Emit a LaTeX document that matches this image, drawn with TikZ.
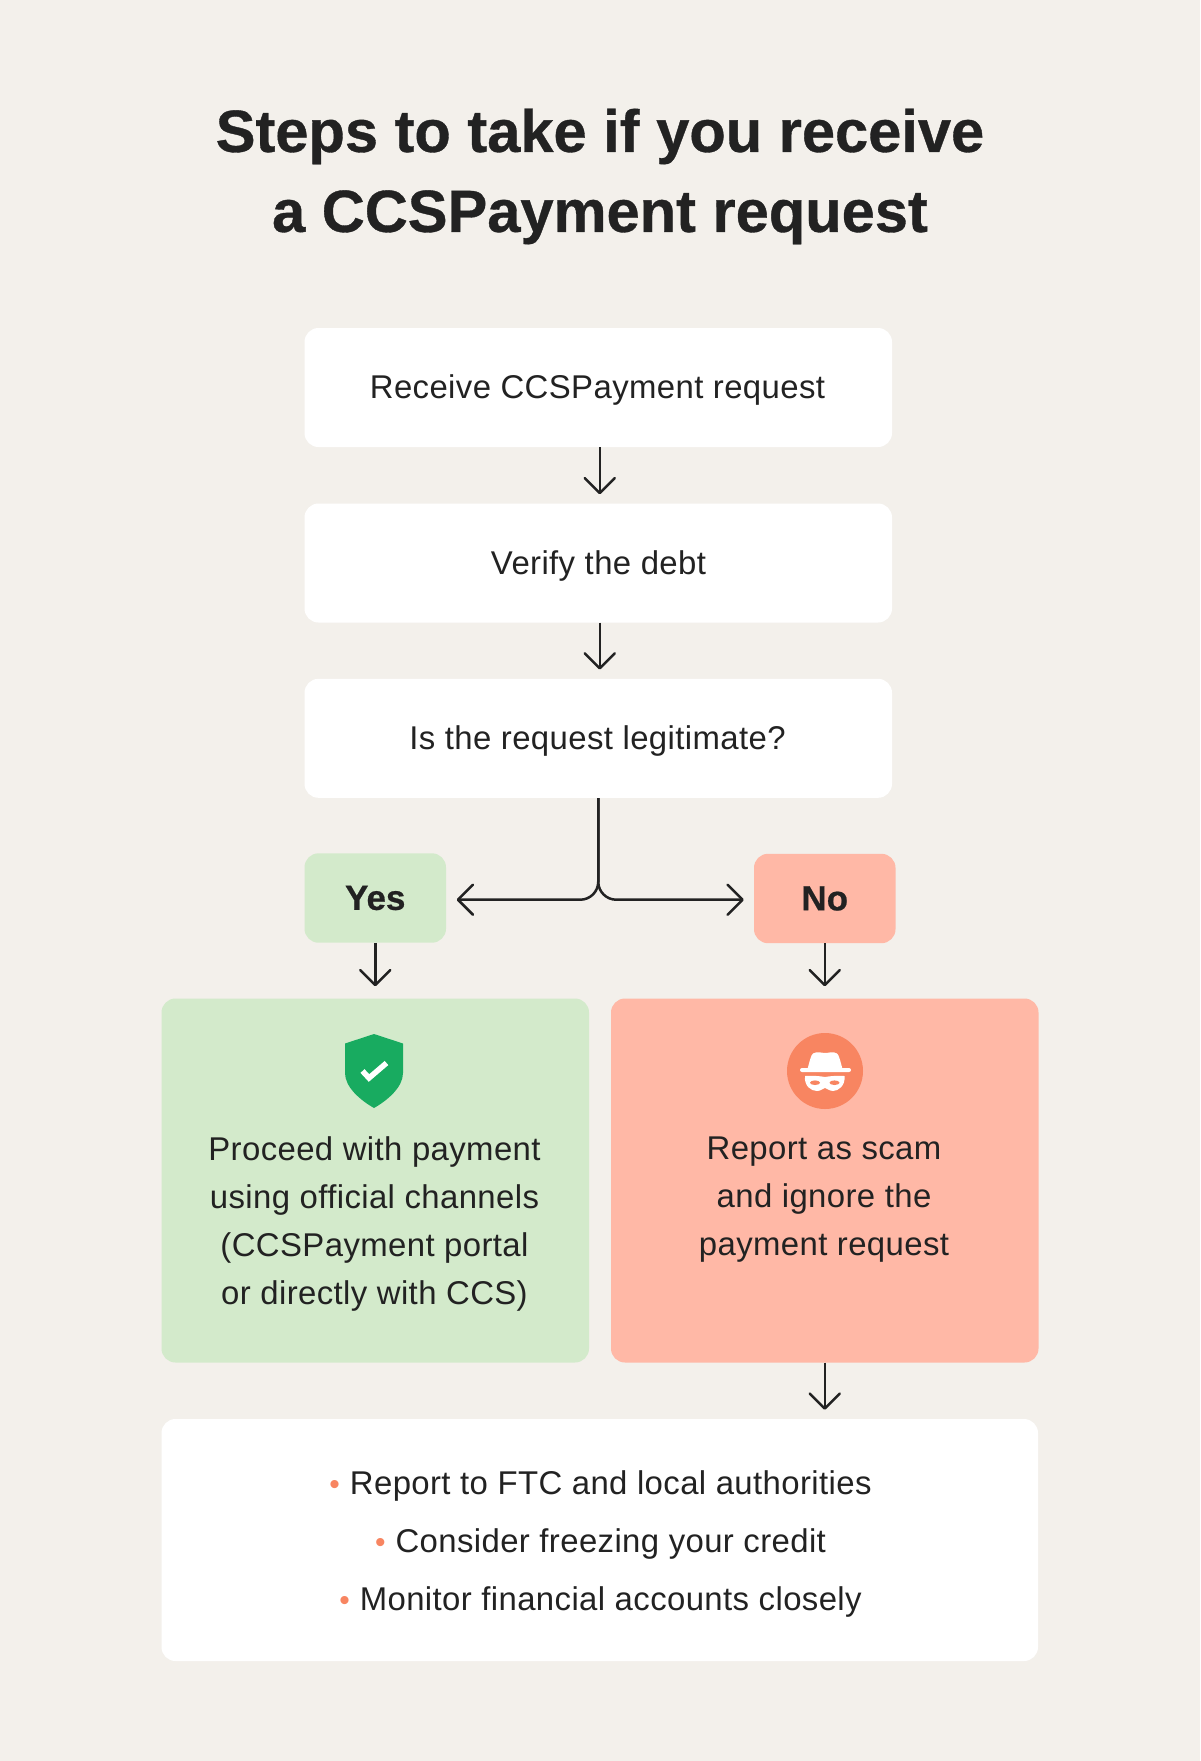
\documentclass[tikz,border=0pt]{standalone}
\usepackage{fontspec}
\setmainfont[LetterSpace=1.2]{Liberation Sans}
\newfontfamily\heavyfont[FakeBold=0.6]{Liberation Sans Bold}
\usetikzlibrary{arrows.meta}
\definecolor{bgc}{HTML}{F3F0EB}
\definecolor{greenc}{HTML}{D3EACB}
\definecolor{redc}{HTML}{FFB8A6}
\definecolor{inkc}{HTML}{222222}
\definecolor{shieldc}{HTML}{18AB60}
\definecolor{orangec}{HTML}{F88561}
\tikzset{
  panel/.style={rounded corners=14pt,inner sep=0pt,draw=none,text=inkc},
  whitebox/.style={panel,fill=white},
  greenbox/.style={panel,fill=greenc},
  redbox/.style={panel,fill=redc},
  body/.style={text=inkc,align=center,inner sep=0pt,font=\fontsize{32.9}{48}\selectfont},
  bold/.style={text=inkc,inner sep=0pt,font=\fontsize{35}{40}\heavyfont},
  arr/.style={draw=inkc,line width=2.5pt,-{Straight Barb[length=15pt,width=30pt,line width=2.5pt,round]}},
}
\newcommand{\bul}{\textcolor{orangec}{\fontsize{30}{48}\selectfont•}\hspace{10pt}}
\begin{document}
\begin{tikzpicture}[x=1pt,y=-1pt]
\useasboundingbox[fill=bgc] (0,0) rectangle (1200,1761);
\node[text=inkc,align=center,inner sep=0pt,font=\fontsize{59.6}{80}\heavyfont] (title) at (600,176.5) {Steps to take if you receive\\a CCSPayment request};
\node[whitebox,minimum width=587.5pt,minimum height=119pt] (a) at (598.25,387.5) {};
\node[whitebox,minimum width=587.5pt,minimum height=119pt] (b) at (598.25,563) {};
\node[whitebox,minimum width=587.5pt,minimum height=119pt] (c) at (598.25,738.3) {};
\node[body] (at) at (597.5,390) {Receive CCSPayment request};
\node[body] (bt) at (598.5,566) {Verify the debt};
\node[body] (ct) at (597.5,741) {Is the request legitimate?};
\node[greenbox,minimum width=141.5pt,minimum height=89.4pt,bold] (yes) at (375.25,898) {Yes};
\node[redbox,minimum width=141.5pt,minimum height=89.4pt,bold] (no) at (824.75,898.5) {No};
\node[greenbox,minimum width=427.5pt,minimum height=364pt] (gp) at (375.25,1180.5) {};
\node[redbox,minimum width=427.5pt,minimum height=364pt] (rp) at (824.75,1180.5) {};
\node[whitebox,minimum width=876.5pt,minimum height=242pt] (w) at (599.75,1540) {};
\node[body] (gt) at (374.5,1224) {Proceed with payment\\using official channels\\(CCSPayment portal\\or directly with CCS)};
\node[body] (rt) at (824,1199.5) {Report as scam\\and ignore the\\payment request};
\node[body,font=\fontsize{32.9}{58}\selectfont] (wt) at (600.5,1543.5) {\bul Report to FTC and local authorities\\\bul Consider freezing your credit\\\bul Monitor financial accounts closely};
% shield
\fill[shieldc] (374,1034) -- (403,1043.5) -- (403,1073) .. controls (403,1087) and (388,1100) .. (374,1108) .. controls (360,1100) and (345,1087) .. (345,1073) -- (345,1043.5) -- cycle;
\draw[white,line width=5.5pt,line join=miter] (362.5,1071) -- (369,1078) -- (386.5,1063);
% spy icon
\fill[orangec] (825,1071) circle (38);
\fill[white,rounded corners=2pt] (800,1068) rectangle (851,1072);
\fill[white] (807.5,1069) .. controls (810,1060) and (811,1055) .. (813,1053.5) .. controls (817,1051) and (822,1053) .. (825,1053) .. controls (829,1053) and (833,1051) .. (837,1053.5) .. controls (839,1055) and (840,1060) .. (842.5,1069) -- cycle;
\fill[white] (805,1076) .. controls (812,1075.5) and (820,1076) .. (825,1077) .. controls (830,1076) and (838,1075.5) .. (844.5,1076) .. controls (845.5,1086) and (838,1091) .. (833,1091) .. controls (829,1091) and (827,1088) .. (825,1088) .. controls (823,1088) and (821,1091) .. (817,1091) .. controls (811,1091) and (804,1086) .. (805,1076) -- cycle;
\fill[orangec] (815,1082.7) ellipse (5 and 2.3);
\fill[orangec] (834.5,1082.7) ellipse (5 and 2.3);
% connectors
\draw[arr,shorten >=9pt] ([xshift=1.5pt]a.south) -- ([xshift=1.5pt]b.north);
\draw[arr,shorten >=9pt] ([xshift=1.5pt]b.south) -- ([xshift=1.5pt]c.north);
\draw[arr,rounded corners=18pt,shorten >=10.5pt] (c.south) |- ([yshift=-1.7pt]yes.east);
\draw[arr,rounded corners=18pt,shorten >=10pt] (c.south) |- ([yshift=-1.2pt]no.west);
\draw[arr,shorten >=12pt] (yes.south) -- (gp.north-|yes.south);
\draw[arr,shorten >=12pt] (no.south) -- (rp.north-|no.south);
\draw[arr,shorten >=9pt] (rp.south) -- (w.north-|rp.south);
\end{tikzpicture}
\end{document}
